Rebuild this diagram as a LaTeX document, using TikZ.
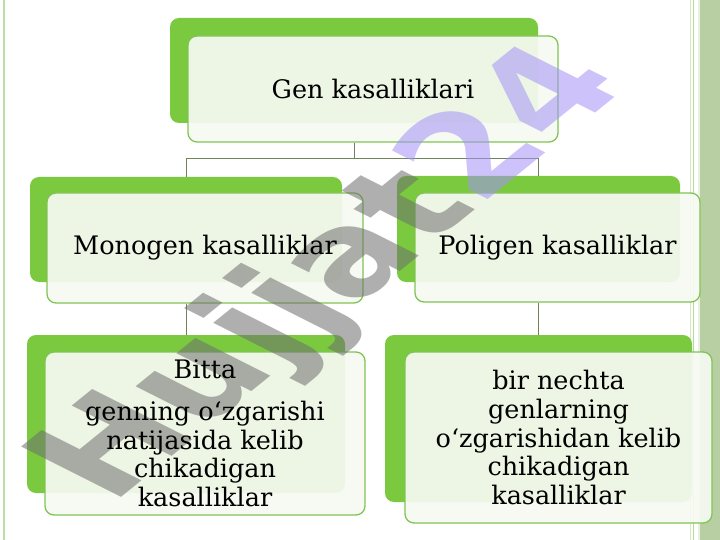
\documentclass[tikz,border=0pt]{standalone}
\usepackage{fontspec}
\setmainfont{DejaVu Serif}
\newfontfamily\markfont{DejaVu Sans}
\usetikzlibrary{calc}

\definecolor{leafgreen}{RGB}{122,201,62}
\definecolor{rimgreen}{RGB}{128,196,84}
\definecolor{paleface}{RGB}{246,250,242}
\definecolor{linkgray}{RGB}{112,132,92}
\definecolor{markgray}{RGB}{110,110,110}
\definecolor{marklilac}{RGB}{164,146,246}
\definecolor{sideband}{RGB}{184,207,163}

\tikzset{
  backbox/.style={fill=leafgreen, rounded corners=9pt, inner sep=0pt},
  facebox/.style={draw=rimgreen, line width=1.3pt, fill=paleface, fill opacity=0.93,
    rounded corners=9pt, inner sep=0pt},
  facetext/.style={align=center, inner sep=0pt, font=\fontsize{25.5}{28.7}\selectfont},
  link/.style={draw=linkgray, line width=0.9pt},
}

\begin{document}
\begin{tikzpicture}[x=1pt,y=-1pt]
\useasboundingbox (0,0) rectangle (720,540);
\fill[white] (0,0) rectangle (720,540);

% slide edges
\draw[rimgreen!55, line width=1.5pt] (4,0) -- (4,540);
\draw[rimgreen!35, line width=1pt] (690,0) -- (690,540);
\draw[rimgreen!60, line width=1pt] (693.5,0) -- (693.5,540);
\fill[sideband] (698,0) rectangle (720,540);
\draw[white!70!sideband, line width=1.5pt] (699,0) -- (699,540);

% green backs
\node[backbox, minimum width=368pt, minimum height=105pt] (genb) at (354,70.5) {};
\node[backbox, minimum width=312pt, minimum height=105pt] (monob) at (186,229.5) {};
\node[backbox, minimum width=283pt, minimum height=106pt] (polib) at (538.5,229) {};
\node[backbox, minimum width=318pt, minimum height=158pt] (bittab) at (186,414) {};
\node[backbox, minimum width=307pt, minimum height=167pt] (birb) at (538.5,418.5) {};

% faces
\node[facebox, minimum width=370pt, minimum height=106pt] (gen) at (373,89) {};
\node[facebox, minimum width=316pt, minimum height=110pt] (mono) at (205,248) {};
\node[facebox, minimum width=285pt, minimum height=109pt] (poli) at (557.5,247.5) {};
\node[facebox, minimum width=320pt, minimum height=163pt] (bitta) at (205,433.5) {};
\node[facebox, minimum width=307pt, minimum height=171pt] (bir) at (558.5,437.5) {};

% connectors
\coordinate (fork) at ($(genb.center |- gen.south)+(0,16)$);
\draw[link] (genb.center |- gen.south) -- (fork);
\draw[link] (monob.north) |- (fork) -| (polib.north);
\draw[link] (monob.center |- mono.south) -- (bittab.north);
\draw[link] (polib.center |- poli.south) -- (birb.north);

% watermark
\node[rotate=39, xslant=-0.45, font=\markfont\bfseries\fontsize{140}{140}\selectfont,
  text=markgray, text opacity=0.55, inner sep=0pt] (mark) at (334,276)
  {Hujjat\textcolor{marklilac}{24}};

% texts
\node[facetext] (gentext) at (gen) {Gen kasalliklari};
\node[facetext] (monotext) at (mono) {Monogen kasalliklar};
\node[facetext] (politext) at (poli) {Poligen kasalliklar};
\node[facetext] (bittatext) at (bitta)
  {Bitta\\[13pt]genning o‘zgarishi\\natijasida kelib\\chikadigan\\kasalliklar};
\node[facetext] (birtext) at (bir)
  {bir nechta\\genlarning\\o‘zgarishidan kelib\\chikadigan\\kasalliklar};
\end{tikzpicture}
\end{document}
